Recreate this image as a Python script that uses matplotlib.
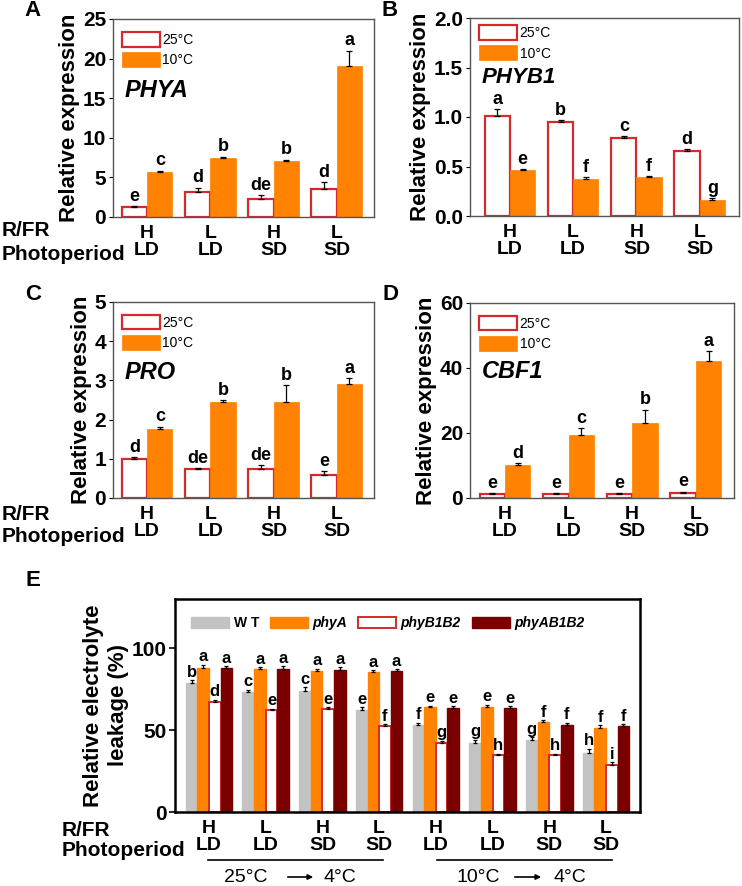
import numpy as np
import matplotlib
matplotlib.use("Agg")
import matplotlib.pyplot as plt

plt.rcParams['font.family'] = ['Liberation Sans', 'DejaVu Sans']
plt.rcParams['font.weight'] = 'bold'
plt.rcParams['axes.labelweight'] = 'bold'

# ---- data ----
conds = ['H\nLD', 'L\nLD', 'H\nSD', 'L\nSD']

phya_25 = [1.2, 3.1, 2.25, 3.5]
phya_25_err = [0.15, 0.6, 0.5, 0.9]
phya_10 = [5.7, 7.5, 7.1, 19.1]
phya_10_err = [0.1, 0.1, 0.1, 1.9]
phya_lab25 = ['e', 'd', 'de', 'd']
phya_lab10 = ['c', 'b', 'b', 'a']

phyb_25 = [1.01, 0.945, 0.785, 0.655]
phyb_25_err = [0.07, 0.025, 0.02, 0.02]
phyb_10 = [0.46, 0.375, 0.395, 0.16]
phyb_10_err = [0.01, 0.02, 0.01, 0.025]
phyb_lab25 = ['a', 'b', 'c', 'd']
phyb_lab10 = ['e', 'f', 'f', 'g']

pro_25 = [1.0, 0.75, 0.75, 0.59]
pro_25_err = [0.04, 0.01, 0.09, 0.09]
pro_10 = [1.75, 2.46, 2.46, 2.9]
pro_10_err = [0.07, 0.03, 0.42, 0.15]
pro_lab25 = ['d', 'de', 'de', 'e']
pro_lab10 = ['c', 'b', 'b', 'a']

cbf_25 = [1.2, 1.2, 1.2, 1.6]
cbf_25_err = [0.2, 0.2, 0.2, 0.3]
cbf_10 = [10.2, 19.5, 23.2, 42.0]
cbf_10_err = [0.5, 1.9, 4.0, 3.1]
cbf_lab25 = ['e', 'e', 'e', 'e']
cbf_lab10 = ['d', 'c', 'b', 'a']

e_conds = ['H\nLD', 'L\nLD', 'H\nSD', 'L\nSD', 'H\nLD', 'L\nLD', 'H\nSD', 'L\nSD']
wt = [79, 73, 74, 62, 53, 42, 44, 36]
wt_err = [1.5, 1.5, 2, 2, 1.5, 2, 1.5, 2.5]
phyA = [88, 87, 86, 85.5, 64, 64, 55, 51]
phyA_err = [2, 1.5, 1.5, 1, 1, 1.5, 1, 2]
phyB1B2 = [67, 62, 63, 52.5, 42, 34.5, 34.5, 28.5]
phyB1B2_err = [1.5, 1, 1, 1, 1.5, 1, 1, 2]
phyAB1B2 = [88, 87, 86.5, 86, 63.5, 63.5, 53, 52.5]
phyAB1B2_err = [1, 2, 2, 1, 1, 1, 1.5, 1]
wt_lab = ['b', 'c', 'c', 'e', 'f', 'g', 'g', 'h']
phyA_lab = ['a', 'a', 'a', 'a', 'e', 'e', 'f', 'f']
phyB1B2_lab = ['d', 'e', 'e', 'f', 'g', 'h', 'h', 'i']
phyAB1B2_lab = ['a', 'a', 'a', 'a', 'e', 'e', 'f', 'f']

orange = '#FF8200'
red = '#D42A2E'
grey = '#C3C3C3'
maroon = '#7A0000'

W, H = 742, 886
fig = plt.figure(figsize=(W / 100, H / 100), dpi=100)


def box(l, t, r, b):
    return [l / W, 1 - b / H, (r - l) / W, (b - t) / H]


def panel(rect, v25, e25, v10, e10, lab25, lab10, ylim, yticks, ylabs, xlim,
          gene, gene_y, leg_y, letter, off, gsize=17):
    ax = fig.add_axes(rect)
    x = np.arange(len(conds))
    w = 0.4
    ax.bar(x - w / 2, v25, w, color='white', edgecolor=red, linewidth=1.6,
           yerr=[np.zeros(4), e25], error_kw=dict(lw=0.9, capsize=2, capthick=0.9),
           label='25°C')
    ax.bar(x + w / 2, v10, w, color=orange, edgecolor=orange, linewidth=0.5,
           yerr=[np.zeros(4), e10], error_kw=dict(lw=0.9, capsize=2, capthick=0.9),
           label='10°C')
    for i in range(4):
        ax.text(x[i] - w / 2, v25[i] + e25[i] + off, lab25[i], ha='center', va='bottom',
                fontsize=13)
        ax.text(x[i] + w / 2, v10[i] + e10[i] + off, lab10[i], ha='center', va='bottom',
                fontsize=13)
    ax.set_xlim(*xlim)
    ax.set_ylim(*ylim)
    ax.set_yticks(yticks)
    ax.set_yticklabels(ylabs, fontsize=15, fontweight='bold')
    ax.set_xticks(x)
    ax.set_xticklabels(conds, fontsize=14, fontweight='bold', linespacing=1.0)
    ax.tick_params(axis='x', length=0, pad=6)
    ax.tick_params(axis='y', length=3, width=0.8, pad=2)
    for s in ax.spines.values():
        s.set_color('#555555')
        s.set_linewidth(1.0)
    ax.set_ylabel('Relative expression', fontsize=16, labelpad=2)
    ax.text(0.045, gene_y, gene, transform=ax.transAxes, fontsize=gsize,
            style='italic', va='center', ha='left')
    ax.legend(loc='upper left', bbox_to_anchor=(0.035, leg_y), frameon=False,
              handlelength=2.7, handleheight=1.25, handletextpad=0.2,
              labelspacing=0.4, borderpad=0, borderaxespad=0,
              prop=dict(weight='normal', size=10))
    fig.text(rect[0] - 80 / W, rect[1] + rect[3] + 8 / H, letter, fontsize=16,
             ha='center', va='center')
    return ax


axA = panel(box(113, 19, 374, 217), phya_25, phya_25_err, phya_10, phya_10_err,
            phya_lab25, phya_lab10, (0, 25), [0, 5, 10, 15, 20, 25],
            ['0', '5', '10', '15', '20', '25'], (-0.54, 3.59), 'PHYA', 0.64, 0.935, 'A', 0.2)
axB = panel(box(470, 18, 739, 216), phyb_25, phyb_25_err, phyb_10, phyb_10_err,
            phyb_lab25, phyb_lab10, (0, 2.0), [0, 0.5, 1.0, 1.5, 2.0],
            ['0.0', '0.5', '1.0', '1.5', '2.0'], (-0.63, 3.62), 'PHYB1', 0.7, 0.965, 'B', 0.01,
            gsize=16)
axC = panel(box(113, 302, 374, 498), pro_25, pro_25_err, pro_10, pro_10_err,
            pro_lab25, pro_lab10, (0, 5), [0, 1, 2, 3, 4, 5],
            ['0', '1', '2', '3', '4', '5'], (-0.54, 3.59), 'PRO', 0.64, 0.935, 'C', 0.04)
axD = panel(box(470, 303, 734, 498), cbf_25, cbf_25_err, cbf_10, cbf_10_err,
            cbf_lab25, cbf_lab10, (0, 60), [0, 20, 40, 60],
            ['0', '20', '40', '60'], (-0.55, 3.6), 'CBF1', 0.65, 0.935, 'D', 0.5)

fig.text(2 / W, 1 - 231 / H, 'R/FR', fontsize=15, va='center')
fig.text(2 / W, 1 - 254 / H, 'Photoperiod', fontsize=15, va='center')
fig.text(2 / W, 1 - 514 / H, 'R/FR', fontsize=15, va='center')
fig.text(2 / W, 1 - 536 / H, 'Photoperiod', fontsize=15, va='center')

# ---- panel E ----
axE = fig.add_axes(box(175, 599, 640, 812))
xe = np.arange(len(e_conds))
bw = 0.205
series = [(wt, wt_err, wt_lab, dict(color=grey, edgecolor=grey), 'W T'),
          (phyA, phyA_err, phyA_lab, dict(color=orange, edgecolor=orange), 'phyA'),
          (phyB1B2, phyB1B2_err, phyB1B2_lab, dict(color='white', edgecolor=red, linewidth=1.4), 'phyB1B2'),
          (phyAB1B2, phyAB1B2_err, phyAB1B2_lab, dict(color=maroon, edgecolor=maroon), 'phyAB1B2')]
for k, (vals, errs, labs, style, name) in enumerate(series):
    pos = xe + (k - 1.5) * bw
    axE.bar(pos, vals, bw, yerr=[np.zeros(8), errs],
            error_kw=dict(lw=0.9, capsize=1.5, capthick=0.9), label=name, **style)
    for i in range(8):
        axE.text(pos[i], vals[i] + errs[i] + 0.3, labs[i], ha='center', va='bottom',
                 fontsize=12)
axE.set_xlim(-0.6, 7.6)
axE.set_ylim(0, 130)
axE.set_yticks([0, 50, 100])
axE.set_yticklabels(['0', '50', '100'], fontsize=15, fontweight='bold')
axE.set_xticks(xe)
axE.set_xticklabels(e_conds, fontsize=14, fontweight='bold', linespacing=1.0)
axE.tick_params(axis='x', length=0, pad=6)
axE.tick_params(axis='y', length=4, width=1.2, pad=2)
for s in axE.spines.values():
    s.set_color('black')
    s.set_linewidth(1.8)
axE.set_ylabel('Relative electrolyte\nleakage (%)', fontsize=16, labelpad=2,
               linespacing=1.25)
leg = axE.legend(loc='upper left', bbox_to_anchor=(0.035, 0.92), ncol=4, frameon=False,
                 handlelength=2.7, handleheight=0.85, handletextpad=0.35,
                 columnspacing=0.8, borderpad=0, borderaxespad=0,
                 prop=dict(weight='bold', size=10))
for t in leg.get_texts()[1:]:
    t.set_style('italic')

fig.text(62 / W, 1 - 830 / H, 'R/FR', fontsize=15, va='center')
fig.text(62 / W, 1 - 851 / H, 'Photoperiod', fontsize=15, va='center')
fig.text(33 / W, 1 - 580 / H, 'E', fontsize=16, ha='center', va='center')

# temperature shift annotations
for (x0, x1, t0, tx0, ax0, ax1, tx1) in [(208, 383, '25°C', 246, 285, 316, 340),
                                         (437, 612, '10°C', 478, 512, 544, 570)]:
    fig.add_artist(plt.Line2D([x0 / W, x1 / W], [1 - 860 / H, 1 - 860 / H],
                              color='black', lw=1.2))
    fig.text(tx0 / W, 1 - 877 / H, t0, fontsize=14, weight='normal', ha='center', va='center')
    fig.text(tx1 / W, 1 - 877 / H, '4°C', fontsize=14, weight='normal', ha='center', va='center')
    fig.add_artist(matplotlib.patches.FancyArrowPatch(
        (ax0 / W, 1 - 877 / H), (ax1 / W, 1 - 877 / H), transform=fig.transFigure,
        arrowstyle='-|>,head_length=3,head_width=1.5', color='black', lw=1.2))

fig.savefig('out.png', dpi=100)
